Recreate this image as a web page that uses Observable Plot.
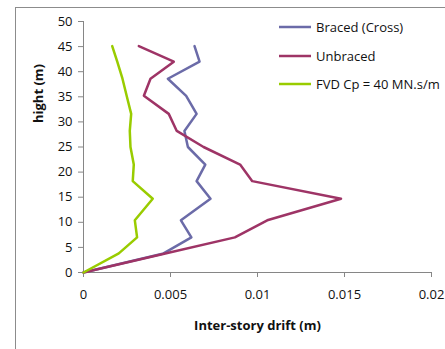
<!DOCTYPE html>
<html>
<head>
<meta charset="utf-8">
<script src="https://cdn.jsdelivr.net/npm/d3@7"></script>
<script src="https://cdn.jsdelivr.net/npm/@observablehq/plot@0.6"></script>
<style>
  html, body { margin: 0; padding: 0; background: #fff; }
  #wrap { position: relative; width: 445px; height: 349px; overflow: hidden; font-family: "Open Sans", "Noto Sans", sans-serif; }
  #border { position: absolute; left: 15px; top: 7px; width: 460px; height: 360px; border-left: 1px solid #8c8c8c; border-top: 1px solid #8c8c8c; }
  #legend { position: absolute; left: 279px; top: 13px; font-size: 13px; color: #111; }
  .row { display: flex; align-items: center; height: 28.5px; }
  .row svg { margin-right: 5px; }
</style>
</head>
<body>
<div id="wrap"><div id="border"></div><div id="chart"></div><div id="legend"></div></div>
<script>
const heights  = [0, 3.8, 7, 10.4, 14.7, 18.2, 21.5, 25, 28.2, 31.6, 35.2, 38.6, 42, 45.1];
const braced   = [0, 0.0046, 0.0062, 0.0056, 0.0073, 0.0065, 0.0070, 0.0060, 0.0058, 0.0065, 0.0059, 0.00485, 0.00667, 0.00638];
const unbraced = [0, 0.0047, 0.0087, 0.01056, 0.0148, 0.0097, 0.0090, 0.0069, 0.00536, 0.0049, 0.00347, 0.00385, 0.00519, 0.00318];
const fvd      = [0, 0.00203, 0.00308, 0.00295, 0.00398, 0.00283, 0.00289, 0.0027, 0.00266, 0.00274, 0.00248, 0.00224, 0.00194, 0.00165];
const seriesNames = ["Braced (Cross)", "Unbraced", "FVD Cp = 40 MN.s/m"];
const seriesColors = ["#6b6ba8", "#9e3466", "#99cc00"];
const xTicks = [0, 0.005, 0.01, 0.015, 0.02];
const yTicks = [0, 5, 10, 15, 20, 25, 30, 35, 40, 45, 50];

const allSeries = [braced, unbraced, fvd];
const data = [];
allSeries.forEach((vals, s) => vals.forEach((v, i) => data.push({series: seriesNames[s], drift: v, h: heights[i]})));

const chart = Plot.plot({
  width: 445,
  height: 349,
  marginLeft: 83,
  marginRight: 14,
  marginTop: 21,
  marginBottom: 77,
  style: {fontFamily: "'Open Sans', 'Noto Sans', sans-serif", fontSize: "13px", color: "#111", background: "transparent"},
  x: {domain: [0, 0.02], ticks: xTicks, tickFormat: d => String(d)},
  y: {domain: [0, 50], ticks: yTicks},
  color: {domain: seriesNames, range: seriesColors},
  marks: [
    Plot.axisX({ticks: xTicks, tickFormat: d => String(d), tickSize: 5, tickPadding: 12, stroke: "#868686", label: null, fontSize: 13}),
    Plot.axisY({ticks: yTicks, tickSize: 5, tickPadding: 6, stroke: "#868686", label: null, fontSize: 13}),
    Plot.ruleX([0], {stroke: "#868686"}),
    Plot.ruleY([0], {stroke: "#868686"}),
    Plot.line(data, {x: "drift", y: "h", z: "series", stroke: "series", strokeWidth: 2.5, sort: null}),
    Plot.text(["Inter-story drift (m)"], {frameAnchor: "bottom", dy: 57, fontWeight: "bold", fontSize: 13, fill: "#111"}),
    Plot.text(["hight (m)"], {frameAnchor: "left", dx: -45, dy: -24, rotate: -90, fontWeight: "bold", fontSize: 13, fill: "#111"})
  ]
});
document.getElementById("chart").appendChild(chart);
chart.style.position = "absolute"; chart.style.left = "0"; chart.style.top = "0";

const legend = document.getElementById("legend");
seriesNames.forEach((name, i) => {
  const row = document.createElement("div");
  row.className = "row";
  row.innerHTML = `<svg width="32" height="6"><line x1="0" x2="32" y1="3" y2="3" stroke="${seriesColors[i]}" stroke-width="2.5"/></svg><span>${name}</span>`;
  legend.appendChild(row);
});
</script>
</body>
</html>
